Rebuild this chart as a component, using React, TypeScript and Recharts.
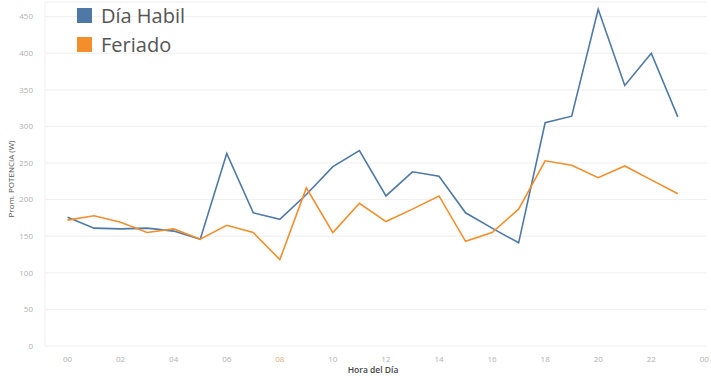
import React from "react";
import { LineChart, Line, XAxis, YAxis, CartesianGrid, Legend } from "recharts";

// Average power per hour of the day, working days vs holidays
const hours = [0, 1, 2, 3, 4, 5, 6, 7, 8, 9, 10, 11, 12, 13, 14, 15, 16, 17, 18, 19, 20, 21, 22, 23];
const diaHabil = [176, 161, 160, 161, 157, 146, 263, 182, 173, 207, 245, 267, 205, 238, 232, 182, 161, 141, 305, 314, 460, 356, 400, 313];
const feriado = [172, 178, 169, 155, 160, 146, 165, 155, 118, 216, 155, 195, 170, 187, 205, 143, 155, 187, 253, 247, 230, 246, 227, 208];
const xTicks = [0, 2, 4, 6, 8, 10, 12, 14, 16, 18, 20, 22, 24];
const yTicks = [0, 50, 100, 150, 200, 250, 300, 350, 400, 450];
const highlightedHour = 8;

const BLUE = "#4e79a7";
const ORANGE = "#f28e2b";
const FONT = "'Open Sans', sans-serif";

const data = hours.map((h, i) => ({ hora: h, habil: diaHabil[i], feriado: feriado[i] }));

const fmtHour = (h: number) => String(h % 24).padStart(2, "0");

const XTick = (props: any) => {
  const { x, y, payload } = props;
  const isHi = payload.value === highlightedHour;
  return (
    <text
      x={x}
      y={y + 8}
      textAnchor="middle"
      fontSize={8}
      fontFamily={FONT}
      fill={isHi ? "#d9b07c" : "#b0b0b0"}
    >
      {fmtHour(payload.value)}
    </text>
  );
};

const legendItems = [
  { label: "Día Habil", color: BLUE },
  { label: "Feriado", color: ORANGE },
];

const LegendContent = () => (
  <div style={{ fontFamily: FONT }}>
    {legendItems.map((it) => (
      <div
        key={it.label}
        style={{ display: "flex", alignItems: "center", height: 29 }}
      >
        <div style={{ width: 15, height: 15, background: it.color, marginRight: 9 }} />
        <span style={{ fontSize: 20, color: "#555", lineHeight: "29px" }}>{it.label}</span>
      </div>
    ))}
  </div>
);

export default function App() {
  return (
    <div style={{ position: "absolute", left: 0, top: 0, width: 711, height: 376, background: "#fff" }}>
      <LineChart
        width={711}
        height={376}
        data={data}
        margin={{ top: 2, right: 4, bottom: 0, left: 0 }}
      >
        <CartesianGrid vertical={false} stroke="#efefef" strokeWidth={1} />
        <XAxis
          dataKey="hora"
          type="number"
          domain={[-0.85, 24.1]}
          ticks={xTicks}
          tick={<XTick />}
          tickLine={false}
          axisLine={false}
          height={30}
          interval={0}
          allowDataOverflow
          label={{
            content: (p: any) => {
              const vb = p.viewBox;
              return (
                <text
                  x={vb.x + vb.width / 2 - 3}
                  y={vb.y + 27}
                  textAnchor="middle"
                  fontSize={8.5}
                  fontWeight={600}
                  fontFamily={FONT}
                  fill="#444"
                >
                  Hora del Día
                </text>
              );
            },
          }}
        />
        <YAxis
          type="number"
          domain={[0, 470]}
          ticks={yTicks}
          width={45}
          tickLine={false}
          axisLine={{ stroke: "#f0f0f0" }}
          tick={{ fontSize: 8, fill: "#b0b0b0", fontFamily: FONT }}
          tickMargin={6}
          allowDataOverflow
          label={{
            content: (p: any) => {
              const vb = p.viewBox;
              const cx = 14;
              const cy = 179;
              return (
                <text
                  x={cx}
                  y={cy}
                  transform={`rotate(-90, ${cx}, ${cy})`}
                  textAnchor="middle"
                  fontSize={8}
                  fontFamily={FONT}
                  fill="#555"
                  data-vb={vb ? vb.x : 0}
                >
                  Prom. POTENCIA (W)
                </text>
              );
            },
          }}
        />
        <Legend
          layout="vertical"
          align="center"
          verticalAlign="middle"
          wrapperStyle={{ left: 77, top: 1, width: 140 }}
          content={<LegendContent />}
        />
        <Line
          type="linear"
          dataKey="habil"
          stroke={BLUE}
          strokeWidth={1.6}
          dot={false}
          activeDot={false}
          isAnimationActive={false}
        />
        <Line
          type="linear"
          dataKey="feriado"
          stroke={ORANGE}
          strokeWidth={1.6}
          dot={false}
          activeDot={false}
          isAnimationActive={false}
        />
      </LineChart>
    </div>
  );
}
